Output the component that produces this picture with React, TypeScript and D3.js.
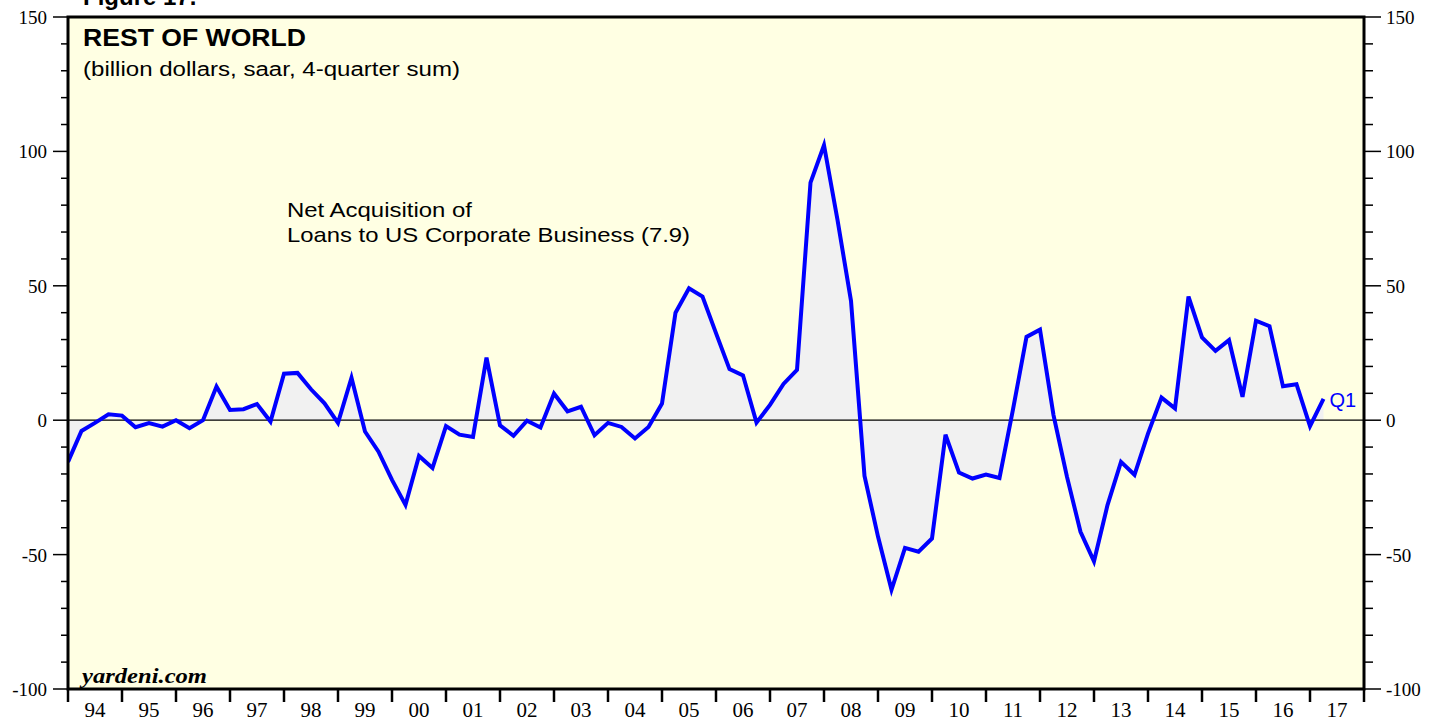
import React from "react";
import * as d3 from "d3";

// Quarterly values, 1993Q4 .. 2017Q1 (billion dollars, saar, 4-quarter sum)
const firstPointYear = 1994; // 1993Q4 plotted at start of 1994
const values: number[] = [
  -15.5, -4.0, -1.0, 2.2, 1.7, -2.6, -1.1, -2.4, 0, -3.0,
  0, 12.5, 3.8, 4.1, 6.0, -0.5, 17.3, 17.6, 11.5, 6.3,
  -1.0, 15.8, -4.2, -11.7, -22.2, -31.5, -13.3, -17.8, -2.2, -5.4,
  -6.2, 23.3, -1.9, -5.8, -0.2, -2.7, 9.9, 3.3, 5.0, -5.6,
  -1.0, -2.5, -6.8, -2.5, 6.2, 40.0, 49.1, 46.0, 32.4, 19.0,
  16.7, -0.9, 5.7, 13.5, 18.7, 88.4, 102.3, 74.5, 44.4, -20.7,
  -43.3, -63.1, -47.5, -48.9, -44.0, -5.4, -19.5, -21.7, -20.2, -21.5,
  4.0, 31.0, 33.7, 1.9, -21.1, -41.5, -52.5, -31.6, -15.5, -20.3,
  -5.0, 8.4, 4.4, 46.0, 30.8, 25.8, 29.8, 8.7, 37.0, 35.0,
  12.6, 13.4, -2.2, 7.9,
];

const yearLabels: string[] = [
  "94", "95", "96", "97", "98", "99", "00", "01", "02", "03", "04", "05",
  "06", "07", "08", "09", "10", "11", "12", "13", "14", "15", "16", "17",
];
const yMajorTicks: number[] = [-100, -50, 0, 50, 100, 150];
const yMinorTicks: number[] = d3.range(-100, 151, 10);

const W = 1440;
const H = 721;
const left = 68;
const right = 1364;
const top = 17;
const bottom = 689;

const SANS = "'Liberation Sans', Arial, Helvetica, sans-serif";
const SERIF = "'Liberation Serif', 'Times New Roman', Times, serif";

export default function App() {
  const x = d3.scaleLinear().domain([1994, 2018]).range([left, right]);
  const y = d3.scaleLinear().domain([-100, 150]).range([bottom, top]);
  const tOf = (i: number) => firstPointYear + i / 4;

  const line = d3
    .line<number>()
    .x((_, i) => x(tOf(i)))
    .y((d) => y(d));
  const area = d3
    .area<number>()
    .x((_, i) => x(tOf(i)))
    .y0(y(0))
    .y1((d) => y(d));

  const yearTicks = d3.range(1994, 2019);
  const last = values.length - 1;

  return (
    <svg
      width={W}
      height={H}
      style={{ position: "absolute", left: 0, top: 0, display: "block", background: "#ffffff" }}
    >
      <defs>
        <clipPath id="plotclip">
          <rect x={left} y={top} width={right - left} height={bottom - top} />
        </clipPath>
      </defs>
      {/* figure caption, cut off at the top edge as in the source */}
      <text x={83} y={5} fontFamily={SANS} fontWeight="bold" fontSize={24} fill="#000">
        Figure 17.
      </text>

      <rect x={left} y={top} width={right - left} height={bottom - top} fill="#ffffe3" />

      <g clipPath="url(#plotclip)">
        <path d={area(values) || ""} fill="#f1f1f1" />
        <line x1={left} x2={right} y1={y(0)} y2={y(0)} stroke="#000" strokeWidth={1.3} />
        <path d={line(values) || ""} fill="none" stroke="#0000ff" strokeWidth={4} strokeLinejoin="miter" />
      </g>

      {/* Y ticks left and right */}
      {yMinorTicks.map((v) => {
        const major = yMajorTicks.includes(v);
        return (
          <g key={"yt" + v}>
            <line x1={major ? 53 : 61} x2={left} y1={y(v)} y2={y(v)} stroke="#000" strokeWidth={1.5} />
            <line x1={right} x2={major ? 1381 : 1373} y1={y(v)} y2={y(v)} stroke="#000" strokeWidth={1.5} />
          </g>
        );
      })}
      {yMajorTicks.map((v) => (
        <g key={"yl" + v}>
          <text x={47} y={y(v) + 7} textAnchor="end" fontFamily={SERIF} fontSize={19} fill="#000">
            {v}
          </text>
          <text x={1386} y={y(v) + 7} textAnchor="start" fontFamily={SERIF} fontSize={19} fill="#000">
            {v}
          </text>
        </g>
      ))}

      {/* X ticks */}
      {yearTicks.map((yr) => (
        <line key={"xt" + yr} x1={x(yr)} x2={x(yr)} y1={bottom} y2={702} stroke="#000" strokeWidth={2.5} />
      ))}
      {yearLabels.map((lab, i) => (
        <text
          key={"xl" + lab}
          x={x(1994 + i + 0.5)}
          y={717}
          textAnchor="middle"
          fontFamily={SERIF}
          fontSize={21}
          fill="#000"
        >
          {lab}
        </text>
      ))}

      {/* Plot border */}
      <rect x={left} y={top} width={right - left} height={bottom - top} fill="none" stroke="#000" strokeWidth={3} />

      {/* Titles */}
      <text x={83} y={46} fontFamily={SANS} fontWeight="bold" fontSize={24} textLength={223} lengthAdjust="spacingAndGlyphs" fill="#000">
        REST OF WORLD
      </text>
      <text x={83} y={76} fontFamily={SANS} fontSize={20} textLength={377} lengthAdjust="spacingAndGlyphs" fill="#000">
        (billion dollars, saar, 4-quarter sum)
      </text>
      <text x={287} y={217} fontFamily={SANS} fontSize={21} textLength={185} lengthAdjust="spacingAndGlyphs" fill="#000">
        Net Acquisition of
      </text>
      <text x={287} y={242} fontFamily={SANS} fontSize={21} textLength={403} lengthAdjust="spacingAndGlyphs" fill="#000">
        Loans to US Corporate Business (7.9)
      </text>
      <text x={x(tOf(last)) + 6} y={407} fontFamily={SANS} fontSize={20} fill="#0000ff">
        Q1
      </text>
      <text x={82} y={683} fontFamily={SERIF} fontStyle="italic" fontWeight="bold" fontSize={21} textLength={125} lengthAdjust="spacingAndGlyphs" fill="#000">
        yardeni.com
      </text>
    </svg>
  );
}
